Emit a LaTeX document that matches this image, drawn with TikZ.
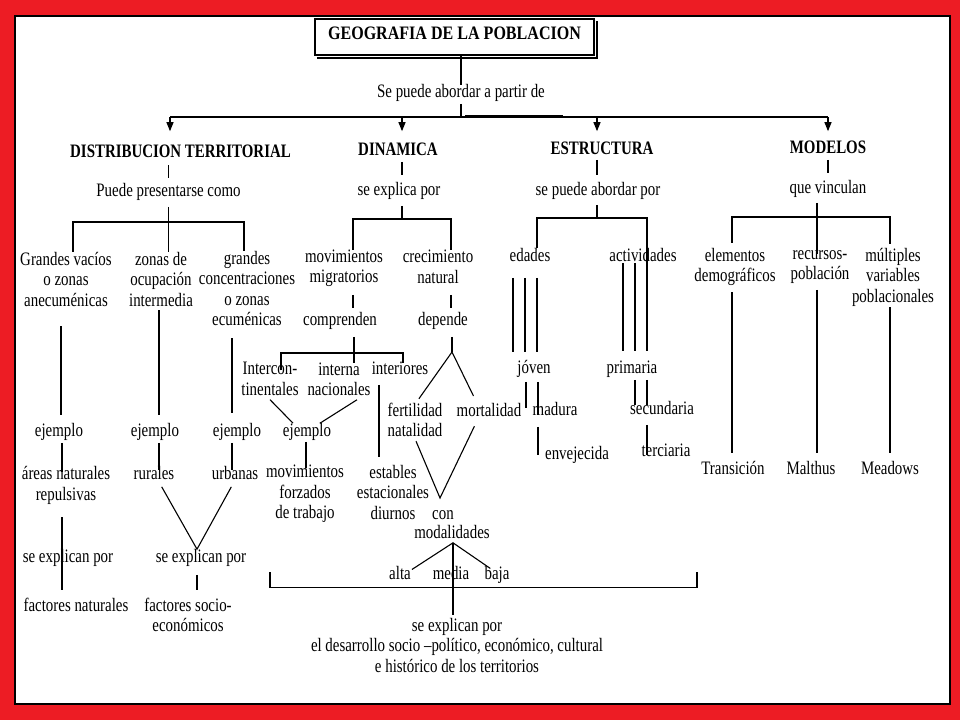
\documentclass[tikz,border=0pt]{standalone}
\usepackage{fontspec}
\setmainfont{Liberation Serif}[FakeStretch=0.785]
\newfontfamily\titlefont{Liberation Serif}[FakeStretch=0.845]
\usetikzlibrary{arrows.meta}
\definecolor{framered}{RGB}{237,28,36}
\tikzset{
  txt/.style={inner sep=0pt, align=center, font=\fontsize{19}{20.5}\selectfont,
    execute at begin node=\vphantom{lp}, execute at end node=\vphantom{lp}},
  hd/.style={txt, font=\fontsize{19}{20.5}\selectfont\bfseries},
  ln/.style={line width=1.1pt},
  arr/.style={ln, -{Triangle[width=7pt,length=9pt]}},
}
\begin{document}
\begin{tikzpicture}[x=1pt,y=-1pt]
\useasboundingbox (0,0) rectangle (960,720);
\fill[framered] (0,0) rectangle (960,720);
\draw[line width=2pt, fill=white] (15,16) rectangle (950,704);
\foreach \x in {61,62,159,160,197,232,233,270,293,306,320,353,354,357,379,402,416,417,451,453,477,487,513,525,526,537,538,597,623,635,647,732,817,828,890}
  \coordinate (c\x) at (\x,0);

% ---------- header ----------
\node[draw, line width=1.2pt, minimum width=279pt, minimum height=36pt, inner sep=0pt, text depth=8pt,
  font=\titlefont\bfseries\fontsize{19}{20}\selectfont] (tt) at (454.5,37) {GEOGRAFIA DE LA POBLACION};
\draw[line width=1.6pt] ([shift={(2.5pt,-2.5pt)}]tt.south west) -| ([shift={(2.5pt,-2.5pt)}]tt.north east);
\node[txt] (sp) at (461,93) {Se puede abordar a partir de};
\draw[ln, shorten >=-1pt] (tt.south -| sp.north) -- (sp.north);
\coordinate (b1) at (170,117);
\coordinate (b2) at (402,117);
\coordinate (b3) at (597,117);
\coordinate (b4) at (828,117);
\draw[ln, shorten <=2pt] (sp.south) -- (sp.south |- b1);
\draw[ln] (b1) -- (b4);
\fill (465,114.5) rectangle (563,117.5);
\node[hd] (h1) at (180.5,152.5) {DISTRIBUCION TERRITORIAL};
\node[hd] (h2) at (398,151) {DINAMICA};
\node[hd] (h3) at (602,150) {ESTRUCTURA};
\node[hd] (h4) at (828,149) {MODELOS};
\draw[arr, shorten >=12.5pt] (b1) -- (b1 |- h1.north);
\draw[arr, shorten >=11pt] (b2) -- (b2 |- h2.north);
\draw[arr, shorten >=10pt] (b3) -- (b3 |- h3.north);
\draw[arr, shorten >=9pt] (b4) -- (b4 |- h4.north);

% ---------- distribucion territorial ----------
\node[txt] (ppc) at (168.5,192) {Puede presentarse como};
\draw[ln, shorten <=4pt, shorten >=5pt] (ppc.north |- h1.south) -- (ppc.north);
\node[txt] (gv) at (66,281) {Grandes vacíos\\o zonas\\anecuménicas};
\node[txt] (zo) at (161,281) {zonas de\\ocupación\\intermedia};
\node[txt] (gc) at (247,290.5) {grandes\\concentraciones\\o zonas\\ecuménicas};
\draw[ln, shorten <=6pt] (ppc.south) -- (ppc.south |- zo.north);
\coordinate (j1a) at (73,222);
\coordinate (j1c) at (244,222);
\draw[ln] (j1a |- gv.north) -- (j1a) -- (j1c) -- (j1c |- gc.north);
\node[txt] (ej1) at (59,432) {ejemplo};
\node[txt] (ej2) at (155,432) {ejemplo};
\node[txt] (ej3) at (237,432) {ejemplo};
\draw[ln, shorten <=16pt, shorten >=8pt] (gv.south -| c61) -- (c61 |- ej1.north);
\draw[ln, shorten >=8pt] (zo.south -| c159) -- (c159 |- ej2.north);
\draw[ln, shorten <=8pt, shorten >=10pt] (gc.south -| c232) -- (c232 |- ej3.north);
\node[txt] (ar) at (66,485.5) {áreas naturales\\repulsivas};
\node[txt] (ru) at (154,475) {rurales};
\node[txt] (ur) at (235,475) {urbanas};
\draw[ln, shorten <=2pt, shorten >=-5.5pt] (ej1.south -| c62) -- (c62 |- ar.north);
\draw[ln, shorten <=2pt, shorten >=-4pt] (ej2.south -| c159) -- (c159 |- ru.north);
\draw[ln, shorten <=2pt, shorten >=-4pt] (ej3.south -| c232) -- (c232 |- ur.north);
\node[txt] (se1) at (68,558) {se explican por};
\node[txt] (se2) at (201,558) {se explican por};
\node[txt] (fn) at (76,607) {factores naturales};
\node[txt] (fs) at (188,617) {factores socio-\\económicos};
\draw[ln, shorten <=3.5pt, shorten >=3.5pt] (ru.south -| c160) -- (c197 |- se2.north) -- (ur.south -| c233);
\draw[ln, shorten <=12.5pt, shorten >=8pt] (ar.south -| c62) -- (c62 |- fn.north);
\draw[ln, shorten <=8pt, shorten >=8pt] (se2.south -| c197) -- (c197 |- fs.north);

% ---------- dinamica ----------
\node[txt] (sep) at (399,191) {se explica por};
\draw[ln, shorten <=2pt, shorten >=7pt] (h2.south -| c402) -- (c402 |- sep.north);
\node[txt] (mm) at (344,268.5) {movimientos\\migratorios};
\node[txt] (cn) at (438,268.5) {crecimiento\\natural};
\coordinate (j2a) at (353,219);
\coordinate (j2c) at (451,219);
\draw[ln, shorten <=6pt] (sep.south -| c402) -- (c402 |- j2a);
\draw[ln] (j2a |- mm.north) -- (j2a) -- (j2c) -- (j2c |- cn.north);
\node[txt] (com) at (340,321) {comprenden};
\node[txt] (dep) at (443,321) {depende};
\draw[ln, shorten <=7.5pt, shorten >=4pt] (mm.south -| c353) -- (c353 |- com.north);
\draw[ln, shorten <=7.5pt, shorten >=4pt] (cn.south -| c451) -- (c451 |- dep.north);
\node[txt] (ic) at (270,381) {Intercon-\\tinentales};
\node[txt] (inn) at (339,381) {interna\\nacionales};
\node[txt] (it) at (400,370) {interiores};
\draw[ln, shorten <=7pt, shorten >=-1pt] (com.south -| c354) -- (c354 |- inn.north);
\coordinate (j3a) at (281,353);
\coordinate (j3c) at (403,353);
\draw[ln, shorten <=-8pt, shorten >=-2pt] (j3a |- ic.north) -- (j3a) -- (j3c) -- (j3c |- it.north);
\node[txt] (ej4) at (307,432) {ejemplo};
\draw[ln] (ic.south -| c270) -- (c293 |- ej4.north);
\draw[ln] (inn.south -| c357) -- (c320 |- ej4.north);
\node[txt] (mf) at (305,494) {movimientos\\forzados\\de trabajo};
\draw[ln, shorten <=1pt, shorten >=-3pt] (ej4.south -| c306) -- (c306 |- mf.north);
\node[txt] (edn) at (393,494) {estables\\estacionales\\diurnos};
\draw[ln, shorten <=6pt, shorten >=8pt] (it.south -| c379) -- (c379 |- edn.north);
\coordinate (ap1) at (452,352);
\draw[ln, shorten <=7pt] (dep.south -| ap1) -- (ap1);
\node[txt] (fe) at (415,422) {fertilidad\\natalidad};
\node[txt] (mort) at (489,412) {mortalidad};
\draw[ln, shorten <=5pt, shorten >=8pt] (fe.north -| c416) -- (ap1) -- (c477 |- mort.north);
\coordinate (ap2) at (440,498);
\draw[ln, shorten >=6pt] (fe.south -| c416) -- (ap2) -- (c477 |- mort.south);
\node[txt] (co) at (443,515) {con};
\node[txt] (mdl) at (452,534) {modalidades};
\node[txt] (al) at (400,575) {alta};
\node[txt] (me) at (451,575) {media};
\node[txt] (ba) at (497,575) {baja};
\draw[ln, shorten <=-6pt, shorten >=-4pt] (c417 |- al.north) -- (mdl.south -| c453) -- (c487 |- ba.north);
\node[txt] (sx) at (457,647) {se explican por\\el desarrollo socio –político, económico, cultural\\e histórico de los territorios};
\draw[ln, shorten >=3pt] (mdl.south -| c453) -- (c453 |- sx.north);
\coordinate (br1) at (270,572);
\coordinate (br2) at (697,572);
\coordinate (brb) at (453,587.5);
\draw[ln] (br1) |- (brb) -| (br2);

% ---------- estructura ----------
\node[txt] (spo) at (598,191) {se puede abordar por};
\draw[ln, shorten <=1pt, shorten >=7pt] (h3.south -| c597) -- (c597 |- spo.north);
\coordinate (j4a) at (537,218);
\coordinate (j4c) at (647,218);
\draw[ln, shorten <=5pt] (spo.south -| c597) -- (c597 |- j4a);
\node[txt] (eda) at (530,257) {edades};
\node[txt] (act) at (643,257) {actividades};
\node[txt] (jo) at (534,369) {jóven};
\node[txt] (pr) at (632,369) {primaria};
\draw[ln, shorten >=9pt] (j4a |- eda.north) -- (j4a) -- (j4c) -- (j4c |- pr.north);
\foreach \k in {c513,c525,c537}
  \draw[ln, shorten <=12pt, shorten >=8pt] (eda.south -| \k) -- (\k |- jo.north);
\foreach \k in {c623,c635}
  \draw[ln, shorten <=-3pt, shorten >=9pt] (act.south -| \k) -- (\k |- pr.north);
\node[txt] (ma) at (555,411) {madura};
\node[txt] (en) at (577,455) {envejecida};
\draw[ln, shorten <=4pt, shorten >=-6pt] (jo.south -| c526) -- (c526 |- ma.north);
\draw[ln, shorten <=4pt, shorten >=-12.5pt] (jo.south -| c538) -- (c538 |- ma.north);
\draw[ln, shorten <=7pt, shorten >=-9pt] (ma.south -| c538) -- (c538 |- en.north);
\node[txt] (sc) at (662,410) {secundaria};
\node[txt] (te) at (666,452) {terciaria};
\foreach \k in {c635,c647}
  \draw[ln, shorten <=2pt, shorten >=-4pt] (pr.south -| \k) -- (\k |- sc.north);
\draw[ln, shorten <=6pt, shorten >=-12pt] (sc.south -| c647) -- (c647 |- te.north);

% ---------- modelos ----------
\node[txt] (qv) at (828,189) {que vinculan};
\draw[ln, shorten <=2pt, shorten >=7pt] (h4.south -| c828) -- (c828 |- qv.north);
\node[txt] (el) at (735,267) {elementos\\demográficos};
\node[txt] (rp) at (820,267) {recursos-\\población};
\node[txt] (mv) at (893,277) {múltiples\\variables\\poblacionales};
\coordinate (j5a) at (732,217);
\coordinate (j5c) at (890,217);
\draw[ln, shorten <=5pt, shorten >=-4pt] (qv.south -| c817) -- (c817 |- rp.north);
\draw[ln, shorten <=5pt, shorten >=4pt] (j5a |- el.north) -- (j5a) -- (j5c) -- (j5c |- mv.north);
\node[txt] (tr) at (733,470) {Transición};
\node[txt] (mt) at (811,470) {Malthus};
\node[txt] (md) at (890,470) {Meadows};
\draw[ln, shorten <=6pt, shorten >=8pt] (el.south -| c732) -- (c732 |- tr.north);
\draw[ln, shorten <=6pt, shorten >=8pt] (rp.south -| c817) -- (c817 |- mt.north);
\draw[ln, shorten <=1pt, shorten >=8pt] (mv.south -| c890) -- (c890 |- md.north);
\end{tikzpicture}
\end{document}
